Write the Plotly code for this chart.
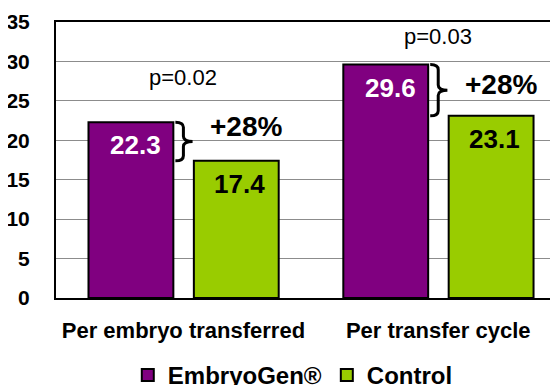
import plotly.graph_objects as go

categories = ["Per embryo transferred", "Per transfer cycle"]
embryogen = [22.3, 29.6]
control = [17.4, 23.1]
p_values = ["p=0.02", "p=0.03"]
increase = ["+28%", "+28%"]
series_names = ["EmbryoGen®", "Control"]
y_ticks = [0, 5, 10, 15, 20, 25, 30, 35]

PURPLE = "#800080"
GREEN = "#99CC00"
FONT = "Liberation Sans"

BAR_W = 0.333
OFF_A = -0.3725
OFF_B = 0.041

fig = go.Figure()
fig.add_trace(go.Bar(
    x=categories, y=embryogen, name=series_names[0],
    offset=OFF_A, width=BAR_W,
    marker=dict(color=PURPLE, line=dict(color="black", width=2)),
))
fig.add_trace(go.Bar(
    x=categories, y=control, name=series_names[1],
    offset=OFF_B, width=BAR_W,
    marker=dict(color=GREEN, line=dict(color="black", width=2)),
))

annotations = []
shapes = []
for i, cat in enumerate(categories):
    a, b = embryogen[i], control[i]
    # value labels
    annotations.append(dict(x=i + OFF_A + BAR_W / 2, y=a, xref="x", yref="y",
                            text=f"{a:.1f}", showarrow=False, xshift=5, yshift=-23,
                            font=dict(family=FONT, size=26, color="white", weight="bold")))
    annotations.append(dict(x=i + OFF_B + BAR_W / 2, y=b, xref="x", yref="y",
                            text=f"{b:.1f}", showarrow=False, xshift=3, yshift=-23,
                            font=dict(family=FONT, size=26, color="black", weight="bold")))
    # brace
    x0 = i + OFF_A + BAR_W + 0.008
    xm = i + 0.0
    xt = i + 0.036
    ymid = (a + b) / 2
    r = 0.65
    path = (f"M {x0},{a} Q {xm},{a} {xm},{a - r} L {xm},{ymid + r} "
            f"Q {xm},{ymid} {xt},{ymid} Q {xm},{ymid} {xm},{ymid - r} "
            f"L {xm},{b + r} Q {xm},{b} {x0},{b}")
    shapes.append(dict(type="path", path=path, xref="x", yref="y",
                       line=dict(color="black", width=3)))
    # +28%
    annotations.append(dict(x=i + 0.245, y=ymid + 1.9 if i == 0 else ymid + 0.7,
                            xref="x", yref="y", text=increase[i], showarrow=False,
                            font=dict(family=FONT, size=28, color="black", weight="bold")))
    # p value
    annotations.append(dict(x=i, y=a + 5.7 if i == 0 else a + 3.5,
                            xref="x", yref="y", text=p_values[i], showarrow=False,
                            font=dict(family=FONT, size=22, color="black")))

# the page adds an 8px body margin, so the figure is 8px smaller on each side
fig.update_layout(
    width=550, height=377,
    margin=dict(l=48, r=0, t=14, b=87, autoexpand=False),
    paper_bgcolor="white", plot_bgcolor="white",
    barmode="overlay",
    showlegend=True,
    legend=dict(orientation="h", x=0.143, xanchor="left", y=-0.28, yanchor="middle",
                font=dict(family=FONT, size=24, color="black", weight="bold"),
                itemwidth=30, traceorder="normal"),
    xaxis=dict(range=[-0.5, 1.47], showline=True, linecolor="black", linewidth=2,
               mirror=True, showgrid=False, ticks="", ticklabelstandoff=12,
               automargin=False,
               tickfont=dict(family=FONT, size=22, color="black", weight="bold")),
    yaxis=dict(range=[0, 35], tickvals=y_ticks, showline=True, linecolor="black",
               linewidth=2, showgrid=True, gridcolor="#8c8c8c", gridwidth=1,
               ticks="", ticklabelstandoff=20, zeroline=False, automargin=False,
               tickfont=dict(family=FONT, size=21, color="black", weight="bold")),
    annotations=annotations,
    shapes=shapes,
)

fig.write_html("out.html")
